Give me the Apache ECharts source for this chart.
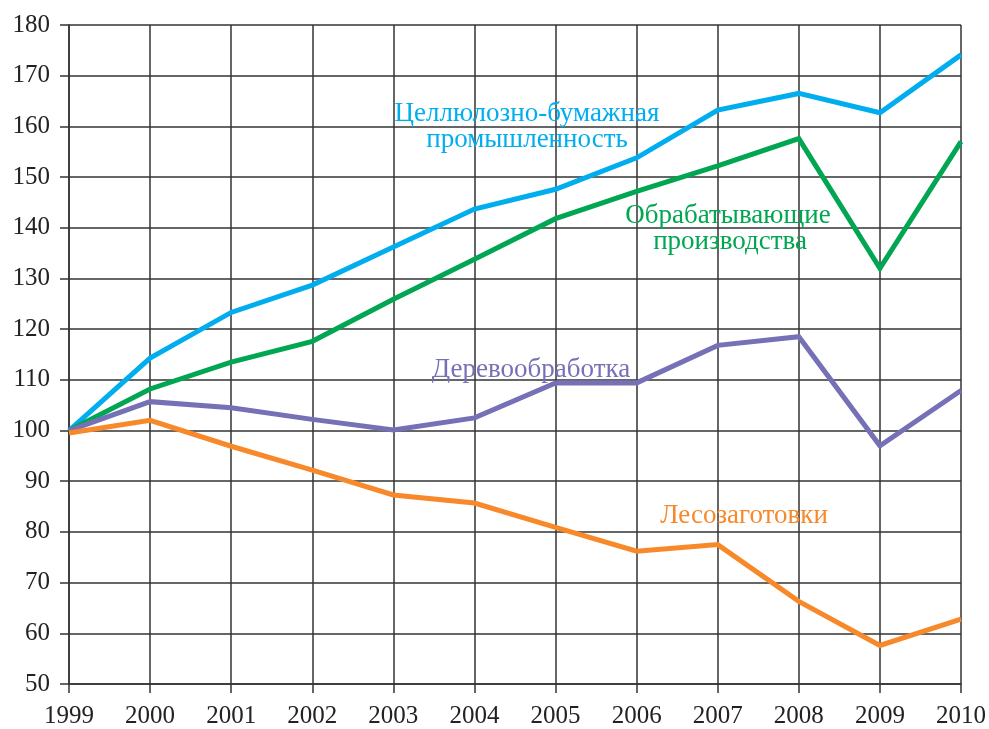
<!DOCTYPE html>
<html>
<head>
<meta charset="utf-8">
<script src="https://cdn.jsdelivr.net/npm/echarts@6/dist/echarts.min.js"></script>
<style>
    html, body { margin: 0; padding: 0; background: #fff; }
    #chart { width: 989px; height: 729px; }
</style>
</head>
<body>
<div id="chart"></div>
<script>
    let years = ['1999', '2000', '2001', '2002', '2003', '2004', '2005', '2006', '2007', '2008', '2009', '2010'];
    let pulp = [100, 114.3, 123.3, 128.7, 136.2, 143.7, 147.6, 153.8, 163.2, 166.5, 162.7, 174.1];
    let manufacturing = [100, 108.2, 113.5, 117.6, 125.9, 133.8, 141.8, 147.2, 152.2, 157.6, 132, 157];
    let woodworking = [100, 105.7, 104.5, 102.2, 100.1, 102.5, 109.4, 109.4, 116.8, 118.5, 97, 107.9];
    let logging = [99.5, 102, 96.9, 92.2, 87.3, 85.7, 80.9, 76.2, 77.5, 66.3, 57.6, 62.8];

    let font = '"Liberation Serif", "Times New Roman", serif';
    let grid_color = '#333';

    let make_series = function (name, data, color) {
        return {
            name: name,
            type: 'line',
            data: data,
            symbol: 'none',
            animation: false,
            lineStyle: { color: color, width: 5, join: 'miter' },
            z: 3
        };
    };

    // one text line, centred on x, y is roughly the baseline
    let make_label = function (text, x, y, color) {
        return {
            type: 'text',
            z: 10,
            style: {
                text: text,
                x: x,
                y: y - 5,
                fill: color,
                font: '27px ' + font,
                textAlign: 'center',
                textVerticalAlign: 'middle'
            }
        };
    };

    let chart = echarts.init(document.getElementById('chart'));
    let option = {
        backgroundColor: '#fff',
        animation: false,
        grid: { left: 69, right: 27, top: 25, bottom: 41 },
        xAxis: {
            type: 'category',
            data: years,
            boundaryGap: false,
            axisLine: { lineStyle: { color: grid_color, width: 1.5 } },
            axisTick: { show: true, length: 9, lineStyle: { color: grid_color, width: 1.5 } },
            axisLabel: { color: '#222', fontFamily: font, fontSize: 25, margin: 20 },
            splitLine: { show: true, lineStyle: { color: grid_color, width: 1.5 } }
        },
        yAxis: {
            type: 'value',
            min: 50,
            max: 180,
            interval: 10,
            axisLine: { show: true, lineStyle: { color: grid_color, width: 1.5 } },
            axisTick: { show: true, length: 9, lineStyle: { color: grid_color, width: 1.5 } },
            axisLabel: { color: '#222', fontFamily: font, fontSize: 25, margin: 19 },
            splitLine: { show: true, lineStyle: { color: grid_color, width: 1.5 } }
        },
        series: [
            make_series('Целлюлозно-бумажная промышленность', pulp, '#00aeef'),
            make_series('Обрабатывающие производства', manufacturing, '#00a651'),
            make_series('Деревообработка', woodworking, '#7670b6'),
            make_series('Лесозаготовки', logging, '#f7892a')
        ],
        graphic: [
            make_label('Целлюлозно-бумажная', 527, 119, '#00aeef'),
            make_label('промышленность', 527, 145, '#00aeef'),
            make_label('Обрабатывающие', 728, 221, '#00a651'),
            make_label('производства', 730, 247, '#00a651'),
            make_label('Деревообработка', 531, 375, '#7670b6'),
            make_label('Лесозаготовки', 744, 521, '#f7892a')
        ]
    };
    chart.setOption(option, true);
</script>
</body>
</html>
